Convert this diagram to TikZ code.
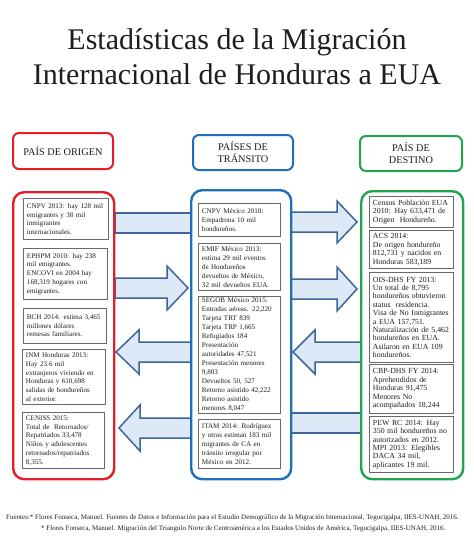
\documentclass[tikz,border=0pt]{standalone}
\usepackage{fontspec}
\setmainfont{Liberation Serif}
\definecolor{origred}{RGB}{228,30,38}
\definecolor{tranblue}{RGB}{30,110,186}
\definecolor{destgreen}{RGB}{32,164,78}
\definecolor{arrowblue}{RGB}{62,102,152}
\definecolor{arrowfill}{RGB}{221,233,246}
\definecolor{boxgray}{RGB}{105,105,105}
\definecolor{inktext}{RGB}{30,30,30}
\begin{document}
\begin{tikzpicture}[x=1pt,y=-1pt,
  col/.style={line width=2.4pt, rounded corners=11pt, fill=white, anchor=north west, inner sep=0pt},
  hdr/.style={line width=2pt, rounded corners=6pt, fill=white, align=center, anchor=north west,
              font=\fontsize{10.3}{12}\selectfont, text=inktext, inner sep=0pt},
  ibox/.style={draw=boxgray, line width=0.9pt, fill=white, align=left, anchor=north west,
               inner xsep=3.5pt, inner ysep=1pt, text=inktext},
  lft/.style={ibox, font=\fontsize{7.1}{8.7}\selectfont},
  mid/.style={ibox, font=\fontsize{7.1}{9}\selectfont},
  rgt/.style={ibox, font=\fontsize{7.8}{8.4}\selectfont},
  blk/.style={draw=arrowblue, fill=arrowfill, line width=1.5pt, line join=miter},
  src/.style={anchor=base west, font=\fontsize{7}{8}\selectfont, text=inktext, inner sep=0pt}
]
\useasboundingbox (0,0) rectangle (474,539);

% title
\node[anchor=base, font=\fontsize{30}{36}\selectfont, text=inktext] (t1) at (237,49) {Estadísticas de la Migración};
\node[anchor=base, font=\fontsize{30}{36}\selectfont, text=inktext] (t2) at (237,84) {Internacional de Honduras a EUA};

% headers
\node[hdr, draw=origred, minimum width=100pt, minimum height=36pt] (hO) at (12,132) {PAÍS DE ORIGEN};
\node[hdr, draw=tranblue, minimum width=100pt, minimum height=35pt] (hT) at (192,134) {PAÍSES DE\\TRÁNSITO};
\node[hdr, draw=destgreen, minimum width=102pt, minimum height=35pt] (hD) at (359,135) {PAÍS DE\\DESTINO};

% block arrows (drawn before the columns)
\draw[blk] (115,213) rectangle (191,233);
\draw[blk] (115,278) -- (167,278) -- (167,266) -- (188,288) -- (167,310) -- (167,298) -- (115,298) -- cycle;
\draw[blk] (191,342) -- (139,342) -- (139,330) -- (116,352) -- (139,374) -- (139,362) -- (191,362) -- cycle;
\draw[blk] (191,418) -- (140,418) -- (140,405) -- (119,428) -- (140,451) -- (140,438) -- (191,438) -- cycle;

\draw[blk] (289,212) -- (337,212) -- (337,201) -- (357,222) -- (337,243) -- (337,232) -- (289,232) -- cycle;
\draw[blk] (289,279) -- (337,279) -- (337,267) -- (357,289) -- (337,311) -- (337,299) -- (289,299) -- cycle;
\draw[blk] (361,342) -- (315,342) -- (315,330) -- (293,352) -- (315,374) -- (315,362) -- (361,362) -- cycle;
\draw[blk] (289,413) rectangle (361,433);

% columns
\node[col, draw=origred, minimum width=101pt, minimum height=287pt] (cO) at (12,191) {};
\node[col, draw=tranblue, minimum width=100pt, minimum height=289pt] (cT) at (190,189) {};
\node[col, draw=destgreen, minimum width=102pt, minimum height=288pt] (cD) at (360,190) {};

% origin boxes
\node[lft, text width=78pt, minimum height=41pt] (l1) at (23,198)
 {CNPV 2013: hay 128 mil\\emigrantes y 38 mil\\inmigrantes\\internacionales.};
\node[lft, text width=77pt, minimum height=51pt] (l2) at (23,248)
 {EPHPM 2010: hay 238\\mil emigrantes.\\ENCOVI en 2004 hay\\168,319 hogares con\\emigrantes.};
\node[lft, text width=76pt, minimum height=35pt] (l3) at (23,308)
 {BCH 2014: estima 3,465\\millones dólares\\remesas familiares.};
\node[lft, text width=76pt, minimum height=55pt] (l4) at (22,349)
 {INM Honduras 2013:\\Hay 23.6 mil\\extranjeros viviendo en\\Honduras y 610,698\\salidas de hondureños\\al exterior.};
\node[lft, text width=75pt, minimum height=56pt] (l5) at (22,412)
 {CENISS 2015:\\Total de~ Retornados/\\Repatriados 33,478\\Niños y adolescentes\\retornados/repatriados\\8,355.};

% transit boxes
\node[mid, text width=75pt, minimum height=33pt] (m1) at (198,203)
 {CNPV México 2010:\\Empadrona 10 mil\\hondureños.};
\node[mid, text width=75pt, minimum height=47pt] (m2) at (198,243)
 {EMIF México 2013:\\estima 29 mil eventos\\de Hondureños\\devueltos de México,\\32 mil devueltos EUA.};
\node[mid, text width=75pt, minimum height=117pt] (m3) at (198,296)
 {SEGOB México 2015:\\Entradas aéreas. 22,220\\Tarjeta TRT 839\\Tarjeta TRP 1,665\\Refugiados 184\\Presentación\\autoridades 47,521\\Presentación menores\\9,803\\Devueltos 50, 527\\Retorno asistido 42,222\\Retorno asistido\\menores 8,047};
\node[mid, text width=75pt, minimum height=49pt] (m4) at (198,419)
 {ITAM 2014: Rodríguez\\y otros estiman 183 mil\\migrantes de CA en\\tránsito irregular por\\México en 2012.};

% destination boxes
\node[rgt, text width=77pt, minimum height=31pt] (r1) at (369,196)
 {Censos Población EUA\\2010: Hay 633,471 de\\Origen~ Hondureño.};
\node[rgt, text width=77pt, minimum height=38pt] (r2) at (369,230)
 {ACS 2014:\\De origen hondureño\\812,731 y nacidos en\\Honduras 583,189};
\node[rgt, text width=77pt, minimum height=90pt] (r3) at (369,272)
 {OIS-DHS FY 2013:\\Un total de 8,795\\hondureños obtuvieron\\status~ residencia.\\Visa de No Inmigrantes\\a EUA 157,751.\\Naturalización de 5,462\\hondureños en EUA.\\Asilaron en EUA 109\\hondureños.};
\node[rgt, text width=77pt, minimum height=49pt] (r4) at (369,364)
 {CBP-DHS FY 2014:\\Aprehendidos de\\Honduras 91,475\\Menores No\\acompañados 18,244};
\node[rgt, text width=77pt, minimum height=56pt] (r5) at (369,416)
 {PEW RC 2014: Hay\\350 mil hondureños no\\autorizados en 2012.\\MPI 2013: Elegibles\\DACA 34 mil,\\aplicantes 19 mil.};

% sources
\node[src] (f1) at (6,519)
 {Fuentes:* Flores Fonseca, Manuel. Fuentes de Datos e Información para el Estudio Demográfico de la Migración Internacional, Tegucigalpa, IIES-UNAH, 2016.};
\node[src] (f2) at (41,530)
 {* Flores Fonseca, Manuel. Migración del Triangulo Norte de Centroamérica a los Estados Unidos de América, Tegucigalpa, IIES-UNAH, 2016.};
\end{tikzpicture}
\end{document}
